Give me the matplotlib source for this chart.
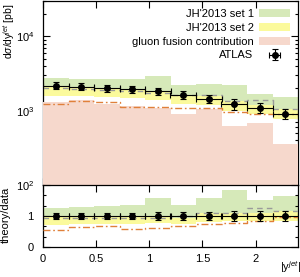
import numpy as np
import matplotlib
matplotlib.use("Agg")
import matplotlib.pyplot as plt
from matplotlib.patches import Patch
from matplotlib.ticker import LogLocator, NullFormatter, FixedLocator

plt.rcParams['font.family'] = ['Liberation Sans', 'DejaVu Sans']
plt.rcParams['mathtext.fontset'] = 'custom'
plt.rcParams['mathtext.rm'] = 'Liberation Sans'
plt.rcParams['mathtext.it'] = 'Liberation Sans:italic'
plt.rcParams['mathtext.sf'] = 'Liberation Sans'

# ---------------- data ----------------
bin_edges = [0.0, 0.24, 0.48, 0.72, 0.96, 1.20, 1.44, 1.68, 1.92, 2.16, 2.40]
atlas = [2180, 2110, 2010, 1970, 1830, 1650, 1450, 1215, 1100, 910]
atlas_err = [240, 230, 220, 215, 220, 200, 190, 205, 175, 145]
set1_lo = [1900, 1850, 1760, 1720, 1600, 1400, 1350, 1130, 1000, 860]
set1_hi = [2770, 2690, 2680, 2680, 2900, 2250, 2300, 2250, 1670, 1510]
set2_lo = [1570, 1560, 1510, 1480, 1390, 1240, 1190, 1000, 910, 775]
set2_hi = [2090, 2030, 1950, 1910, 1775, 1570, 1580, 1335, 1210, 1055]
gg_lo = [60, 60, 60, 60, 60, 60, 60, 60, 60, 60]
gg_hi = [1300, 1395, 1235, 1140, 1090, 910, 1040, 630, 675, 355]
gg_central = [1215, 1350, 1330, 1125, 1125, 1095, 1085, 960, 910, 890]
jh_central = [2050, 1990, 1890, 1850, 1720, 1650, 1610, 1340, 1375, 1065]

labels = ["JH'2013 set 1", "JH'2013 set 2", "gluon fusion contribution", "ATLAS"]
xticks = [0, 0.5, 1, 1.5, 2]
xticklabels = ['0', '0.5', '1', '1.5', '2']

C_GREEN = '#d6e9b9'
C_YELLOW = '#fbfa9c'
C_PINK = '#f6d8cc'
C_ORANGE = '#e0803a'
C_GREY = '#9a9a9a'

edges = np.array(bin_edges)
centers = 0.5 * (edges[:-1] + edges[1:])
halfw = 0.5 * np.diff(edges)
A = np.array(atlas, float)

def ext(v):
    v = np.asarray(v, float)
    return np.r_[v, v[-1]]

W, H = 300, 277
fig = plt.figure(figsize=(W / 100, H / 100), dpi=100)
L, R = 43 / W, 298 / W
ax = fig.add_axes([L, 1 - 185 / H, R - L, 184 / H])
axr = fig.add_axes([L, 1 - 247 / H, R - L, 62 / H], sharex=ax)

def draw(a, n):
    a.fill_between(edges, ext(np.array(set1_lo) / n), ext(np.array(set1_hi) / n),
                   step='post', color=C_GREEN, lw=0, zorder=1)
    a.fill_between(edges, ext(np.array(set2_lo) / n), ext(np.array(set2_hi) / n),
                   step='post', color=C_YELLOW, lw=0, zorder=2)
    a.step(edges, ext(np.array(jh_central) / n), where='post', color=C_GREY,
           lw=1.0, ls=(0, (4, 3)), zorder=4)
    a.step(edges, ext(np.array(gg_central) / n), where='post', color=C_ORANGE,
           lw=1.0, ls=(0, (5, 2, 1.2, 2)), zorder=5)
    eb = a.errorbar(centers, A / n, yerr=np.array(atlas_err) / n, xerr=halfw,
                    fmt='o', color='k', ms=4, capsize=2, elinewidth=0.8,
                    capthick=0.8, zorder=6)
    return eb

ax.fill_between(edges, ext(gg_lo), ext(gg_hi), step='post', color=C_PINK,
                lw=0, zorder=3)
eb = draw(ax, 1.0)
draw(axr, A)

ax.set_yscale('log')
ax.set_ylim(100, 30000)
ax.set_xlim(0, 2.4)
ax.yaxis.set_major_locator(LogLocator(base=10, numticks=10))
ax.yaxis.set_minor_locator(LogLocator(base=10, subs=np.arange(2, 10), numticks=20))
ax.yaxis.set_minor_formatter(NullFormatter())

axr.set_ylim(0, 2)
axr.yaxis.set_major_locator(FixedLocator([0, 1, 2]))
axr.yaxis.set_minor_locator(FixedLocator([1/3, 2/3, 4/3, 5/3]))
axr.set_yticklabels(['0', '1', ''])
axr.xaxis.set_major_locator(FixedLocator(xticks))
axr.set_xticklabels(xticklabels)

for a in (ax, axr):
    a.tick_params(which='both', direction='in', top=True, right=True,
                  labelsize=8, width=0.8)
    a.tick_params(which='major', length=5)
    a.tick_params(which='minor', length=2.5)
    for s in a.spines.values():
        s.set_linewidth(0.9)
ax.tick_params(axis='y', pad=6)
axr.tick_params(axis='y', pad=7)
axr.tick_params(axis='x', pad=5)
ax.tick_params(labelbottom=False)

handles = [Patch(facecolor=C_GREEN, lw=0), Patch(facecolor=C_YELLOW, lw=0),
           Patch(facecolor=C_PINK, lw=0), eb]
ax.legend(handles, labels, loc='upper right', frameon=False, markerfirst=False,
          fontsize=8, handlelength=2.8, handleheight=0.7, labelspacing=0.35,
          handletextpad=0.5, borderaxespad=0.4, borderpad=0.3)

fig.text(9 / W, 1 - 31 / H, r'd$\sigma$/dy$^{jet}$ [pb]', rotation=90,
         ha='center', va='center', fontsize=7.5)
fig.text(6 / W, 1 - 215 / H, 'theory/data', rotation=90, ha='center',
         va='center', fontsize=8)
fig.text(290 / W, 1 - 267 / H, r'|y$^{jet}$|', ha='center', va='center',
         fontsize=8)

fig.savefig('out.png', dpi=100)
